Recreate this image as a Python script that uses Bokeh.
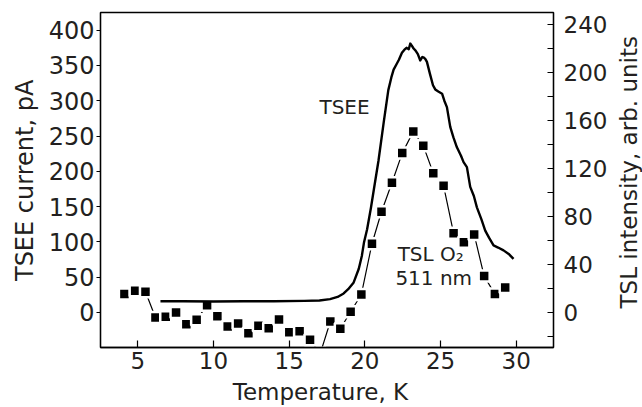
import math
from bokeh.plotting import figure
from bokeh.models import Range1d, LinearAxis, FixedTicker, Label
from bokeh.layouts import row, column
from bokeh.core.properties import value
from bokeh.embed import file_html
from bokeh.resources import INLINE

# ---------------- data ----------------
tsee_t = [6.5, 8.0, 10.0, 12.0, 14.0, 16.0, 17.0, 17.7, 18.2, 18.6, 18.9, 19.25, 19.6, 19.8,
          19.95, 20.15, 20.4, 20.6, 20.9, 21.25, 21.55, 21.75, 21.9, 22.1, 22.25, 22.45, 22.6,
          22.75, 22.9, 23.0, 23.1, 23.22, 23.35, 23.5, 23.66, 23.8, 23.9, 24.0, 24.1, 24.3,
          24.5, 24.65, 24.85, 25.1, 25.25, 25.42, 25.64, 25.85, 26.08, 26.35, 26.52, 26.74,
          26.96, 27.2, 27.4, 27.7, 27.95, 28.2, 28.5, 28.8, 29.16, 29.5, 29.82]
tsee_v = [16, 16, 15.5, 16, 16, 16.5, 17, 19, 22, 27, 33, 42, 62, 80,
          100, 118, 148, 175, 215, 270, 315, 333, 344, 352, 358, 368, 372,
          375, 373, 381, 378, 374, 371, 366, 357, 362, 361, 359, 355, 338,
          322, 316, 313, 310, 300, 291, 263, 248, 234, 222, 213, 206,
          178, 165, 149, 132, 116, 106, 95, 92, 88, 83, 76]

tsl_t = [4.12, 4.83, 5.51, 6.17, 6.85, 7.53, 8.21, 8.89, 9.58, 10.26, 10.94, 11.63, 12.31,
         12.97, 13.65, 14.33, 15.01, 15.69, 16.38, 17.06, 17.72, 18.38, 19.06, 19.77, 20.47,
         21.10, 21.79, 22.47, 23.20, 23.86, 24.52, 25.20, 25.86, 26.54, 27.22, 27.88, 28.59,
         29.27]
tsl_v = [15.3, 18.1, 17.3, -4.2, -3.6, 0.0, -9.8, -6.1, 6.1, -3.1, -11.7, -9.2, -17.3,
         -11.1, -13.1, -5.8, -16.4, -15.6, -22.8, -34.0, -7.5, -13.6, 0.6, 15.0, 57.3,
         83.9, 108.1, 132.8, 150.8, 138.9, 116.1, 105.6, 66.1, 58.6, 65.0, 30.3, 15.3,
         20.8]

x_ticks = [5, 10, 15, 20, 25, 30]
left_ticks = [0, 50, 100, 150, 200, 250, 300, 350, 400]
right_major = [0, 40, 80, 120, 160, 200, 240]
right_minor = [-20, 20, 60, 100, 140, 180, 220]

x_title = "Temperature, K"
left_title = "TSEE current, pA"
right_title = "TSL intensity, arb. units"

FONT = "DejaVu Sans"
TXT = "#231f20"

X0, X1 = 2.54, 32.46
Y0, Y1 = -49.6, 425

MAIN_H = 378

p = figure(width=572, height=MAIN_H,
           x_range=Range1d(X0, X1), y_range=Range1d(Y0, Y1),
           output_backend="svg", toolbar_location=None,
           min_border_left=60, min_border_right=59, min_border_top=12, min_border_bottom=31)
p.extra_y_ranges = {"tsl": Range1d(-29.2, 250)}
p.grid.visible = False
p.outline_line_color = "black"
p.outline_line_width = 1.3
p.background_fill_color = "white"
p.border_fill_color = "white"


def style(ax, font_size="24px"):
    ax.axis_line_color = "black"
    ax.axis_line_width = 1.3
    ax.major_tick_line_color = "black"
    ax.major_tick_line_width = 1.2
    ax.minor_tick_line_color = "black"
    ax.minor_tick_line_width = 1.2
    ax.major_label_text_font = FONT
    ax.major_label_text_font_size = font_size
    ax.major_label_text_color = TXT


xa = p.xaxis[0]
xa.ticker = FixedTicker(ticks=x_ticks)
style(xa, "23px")
xa.major_tick_in = 7
xa.major_tick_out = 0
xa.minor_tick_line_color = None
xa.major_label_standoff = 4

ya = p.yaxis[0]
ya.ticker = FixedTicker(ticks=left_ticks)
style(ya)
ya.major_tick_in = 0
ya.major_tick_out = 4
ya.minor_tick_line_color = None
ya.major_label_standoff = 2

ra = LinearAxis(y_range_name="tsl",
                ticker=FixedTicker(ticks=right_major, minor_ticks=right_minor))
style(ra, "23px")
ra.major_tick_in = 6
ra.major_tick_out = 0
ra.minor_tick_in = 6
ra.minor_tick_out = 0
ra.major_label_standoff = 10
p.add_layout(ra, "right")

# TSL O2 data (right axis)
p.line(tsl_t, tsl_v, y_range_name="tsl", line_color="black", line_width=1.2)
p.scatter(tsl_t, tsl_v, y_range_name="tsl", marker="square", size=11,
          fill_color="black", line_color="white", line_width=2.5)

# TSEE current (left axis)
p.line(tsee_t, tsee_v, line_color="black", line_width=2.4, line_join="round")

for x, y, t, al in [(17.0, 291, "TSEE", "left"),
                    (24.35, 83, "TSL O\u2082", "center"),
                    (24.55, 49, "511 nm", "center")]:
    p.add_layout(Label(x=x, y=y, text=t, text_font=FONT, text_font_size="20px",
                       text_color=TXT, text_align=al, text_baseline="middle"))


def title_panel(w, h, tx, ty, text, angle, size, align="center"):
    q = figure(width=w, height=h, x_range=Range1d(0, 1), y_range=Range1d(0, 1),
               x_axis_type=None, y_axis_type=None, output_backend="svg",
               toolbar_location=None, min_border=0)
    q.grid.visible = False
    q.outline_line_color = None
    q.background_fill_color = "white"
    q.border_fill_color = "white"
    q.text(x=[tx], y=[ty], text=[text], angle=angle,
           text_align=align, text_baseline="middle", text_font=value(FONT),
           text_font_size=value(size), text_color=TXT)
    return q


pL = title_panel(40, MAIN_H, 24 / 40, (MAIN_H - 303) / MAIN_H, left_title,
                 math.pi / 2, "24px", "left")
pR = title_panel(30, MAIN_H, 16 / 30, (MAIN_H - 334) / MAIN_H, right_title,
                 math.pi / 2, "23px", "left")
pB = title_panel(642, 29, 320 / 642, (407 - 391) / 29, x_title, 0, "23px")

layout = column(row(pL, p, pR), pB)
open("out.html", "w").write(file_html(layout, INLINE))
